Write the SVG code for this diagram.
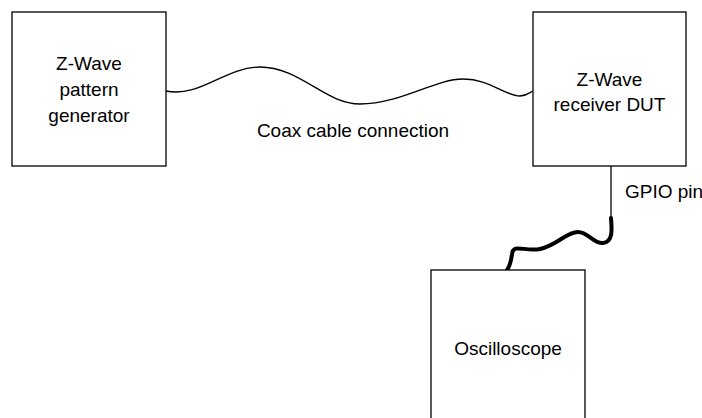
<svg xmlns="http://www.w3.org/2000/svg" width="702" height="418" viewBox="0 0 702 418">
  <style>
    .box { fill: #ffffff; stroke: #000000; stroke-width: 1.3; }
    .lbl { font-family: "Liberation Sans", Arial, sans-serif; font-size: 19px; fill: #000000; }
    .mid { text-anchor: middle; }
    .wire { fill: none; stroke: #000000; stroke-width: 1.3; }
    .thick { fill: none; stroke: #000000; stroke-width: 4; stroke-linecap: round; }
  </style>
  <rect width="702" height="418" fill="#ffffff"/>

  <g id="connectors">
    <!-- coax cable between generator and DUT -->
    <path class="wire" d="M166,91 C200,98 225,67 260,67 C300,67 325,104 360,104 C400,104 435,79 463,79 C490,79 505,96 520,96 C527,96 530,92 533,91"/>
    <text class="lbl mid" x="353" y="137">Coax cable connection</text>
    <!-- GPIO lead from DUT to oscilloscope probe -->
    <path class="wire" d="M611,166 L611,219"/>
    <path class="thick" d="M611,218 C612,230 613,242 603,243 C594,244 588,232 578,232 C566,232 558,245 540,249 C525,252 513,243 512,254 C511,262 510,266 507,270"/>
    <text class="lbl" x="625" y="198">GPIO pin</text>
  </g>

  <g id="pattern-generator">
    <rect class="box" x="12" y="12" width="154" height="154"/>
    <text class="lbl mid" x="89" y="70">Z-Wave</text>
    <text class="lbl mid" x="89" y="96">pattern</text>
    <text class="lbl mid" x="89" y="122">generator</text>
  </g>

  <g id="receiver-dut">
    <rect class="box" x="533" y="12" width="153" height="154"/>
    <text class="lbl mid" x="609.5" y="86">Z-Wave</text>
    <text class="lbl mid" x="609.5" y="111">receiver DUT</text>
  </g>

  <g id="oscilloscope">
    <rect class="box" x="431" y="270" width="154" height="160"/>
    <text class="lbl mid" x="508" y="355">Oscilloscope</text>
  </g>
</svg>
